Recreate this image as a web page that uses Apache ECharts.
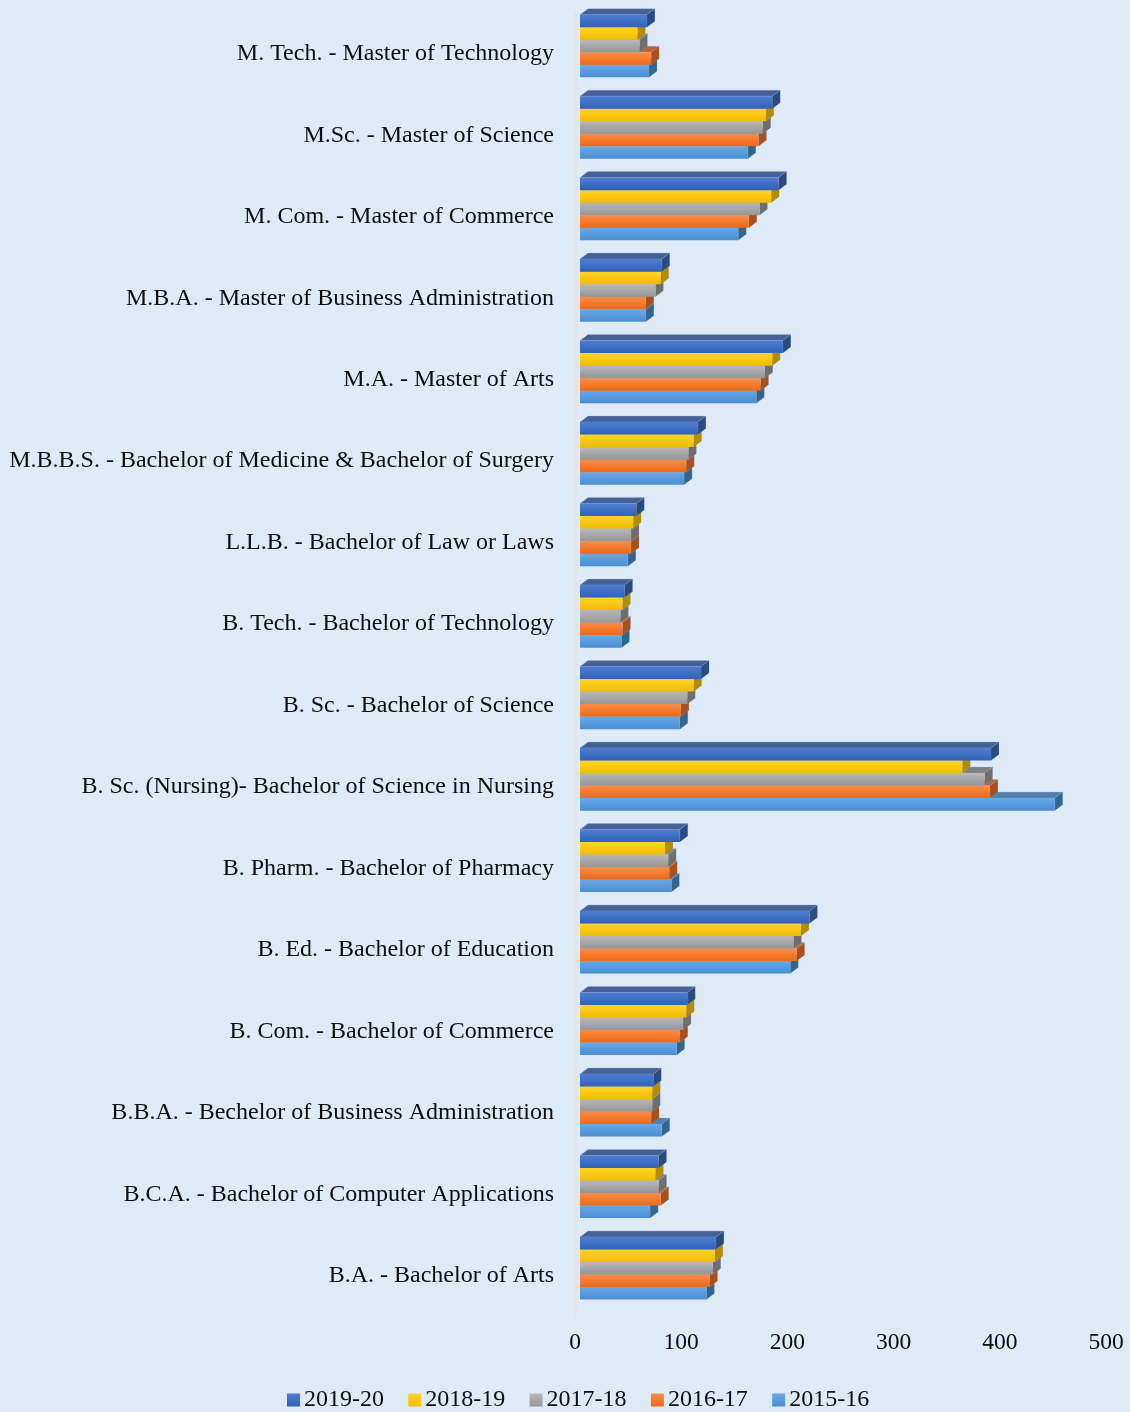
<!DOCTYPE html>
<html><head><meta charset="utf-8">
<style>html,body{margin:0;padding:0;background:#deeaf6}#c{width:1130px;height:1412px}</style>
<script src="https://cdn.jsdelivr.net/npm/echarts@6/dist/echarts.min.js"></script>
</head><body><div id="c"></div>
<script>
const categories = [
 "M. Tech. - Master of Technology","M.Sc. - Master of Science","M. Com. - Master of Commerce",
 "M.B.A. - Master of Business Administration","M.A. - Master of Arts",
 "M.B.B.S. - Bachelor of Medicine & Bachelor of Surgery","L.L.B. - Bachelor of Law or Laws",
 "B. Tech. - Bachelor of Technology","B. Sc. - Bachelor of Science",
 "B. Sc. (Nursing)- Bachelor of Science in Nursing","B. Pharm. - Bachelor of Pharmacy",
 "B. Ed. - Bachelor of Education","B. Com. - Bachelor of Commerce",
 "B.B.A. - Bechelor of Business Administration","B.C.A. - Bachelor of Computer Applications",
 "B.A. - Bachelor of Arts"];
const y2019 = [63,181,187,77,191,111,53,42,114,387,94,216,101,69,74,128];
const y2018 = [54,175,180,76,181,107,50,40,107,360,80,208,100,68,71,127];
const y2017 = [56,172,169,71,174,102,48,38,101,381,83,201,97,68,74,125];
const y2016 = [67,168,159,62,170,100,48,40,95,386,84,204,94,67,76,122];
const y2015 = [65,158,149,62,166,98,45,39,94,447,86,198,91,77,66,119];
const xTicks = [0,100,200,300,400,500];

const grad=(a,b)=>new echarts.graphic.LinearGradient(0,0,0,1,[{offset:0,color:a},{offset:1,color:b}]);
const styles = {
 '2019-20':{values:y2019,slot:0,front:['#507dd2','#3062b8'],top:'#466198',side:'#2b4a80'},
 '2018-19':{values:y2018,slot:1,front:['#ffd42a','#f4bb00'],top:'#c09a10',side:'#b58c00'},
 '2017-18':{values:y2017,slot:2,front:['#b8b8b8','#969696'],top:'#808080',side:'#6e6e6e'},
 '2016-17':{values:y2016,slot:3,front:['#fb8c46','#ec6a18'],top:'#b9623a',side:'#a8501e'},
 '2015-16':{values:y2015,slot:4,front:['#68a8e6','#4a8ed2'],top:'#4f7fac',side:'#33668f'}
};
const legendOrder=['2019-20','2018-19','2017-18','2016-17','2015-16'];
const drawOrder=['2015-16','2016-17','2017-18','2018-19','2019-20'];
const OFF_X=5,OFF_Y=-7.8,DX=8,DY=-6,BAR_FRAC=12.52/81.49;

function makeRender(st){
 return function(params,api){
  const v=api.value(0),c=api.value(1);
  const band=api.size([0,1])[1],h=band*BAR_FRAC;
  const p0=api.coord([0,c]),p1=api.coord([v,c]);
  const x0=p0[0]+OFF_X,x1=p1[0]+OFF_X;
  const yT=p0[1]+OFF_Y-2.5*h+st.slot*h,yB=yT+h;
  return {type:'group',children:[
   {type:'polygon',shape:{points:[[x0,yT],[x1,yT],[x1+DX,yT+DY],[x0+DX,yT+DY]]},style:{fill:st.top,stroke:'rgba(150,185,225,0.55)',lineWidth:0.6}},
   {type:'polygon',shape:{points:[[x1,yT],[x1+DX,yT+DY],[x1+DX,yB+DY],[x1,yB]]},style:{fill:st.side,stroke:'rgba(150,185,225,0.4)',lineWidth:0.5}},
   {type:'rect',shape:{x:x0,y:yT,width:x1-x0,height:h},style:{fill:grad(st.front[0],st.front[1])}}
  ]};
 };
}
const FONT='"Liberation Serif"';
const chart=echarts.init(document.getElementById('c'),null,{renderer:'canvas'});
chart.setOption({
 animation:false,
 backgroundColor:'#deeaf6',
 grid:{left:575,right:24,top:13,height:1303.8,containLabel:false},
 xAxis:{type:'value',min:0,max:500,interval:100,splitLine:{show:false},axisLine:{show:false},axisTick:{show:false},
  axisLabel:{fontFamily:FONT,fontSize:23.5,color:'#0d0d0d',margin:14.5,formatter:v=>xTicks.includes(v)?String(v):''}},
 yAxis:{type:'category',inverse:true,data:categories,axisTick:{show:false},
  axisLine:{show:true,lineStyle:{color:'#e2e4e9',width:3}},
  axisLabel:{fontFamily:FONT,fontSize:24,color:'#0d0d0d',margin:21,interval:0}},
 legend:{left:287,top:1388,padding:0,itemWidth:13,itemHeight:13,itemGap:24.3,
  textStyle:{fontFamily:FONT,fontSize:24,color:'#0d0d0d',padding:[0,0,0,-1]},
  data:legendOrder.map(n=>({name:n,icon:'rect',itemStyle:{color:grad(styles[n].front[0],styles[n].front[1])}}))},
 series:drawOrder.map(n=>({
  name:n,type:'custom',clip:false,coordinateSystem:'cartesian2d',
  encode:{x:0,y:1},
  itemStyle:{color:styles[n].front[1]},
  data:styles[n].values.map((v,i)=>[v,i]),
  renderItem:makeRender(styles[n])
 }))
});
</script></body></html>
